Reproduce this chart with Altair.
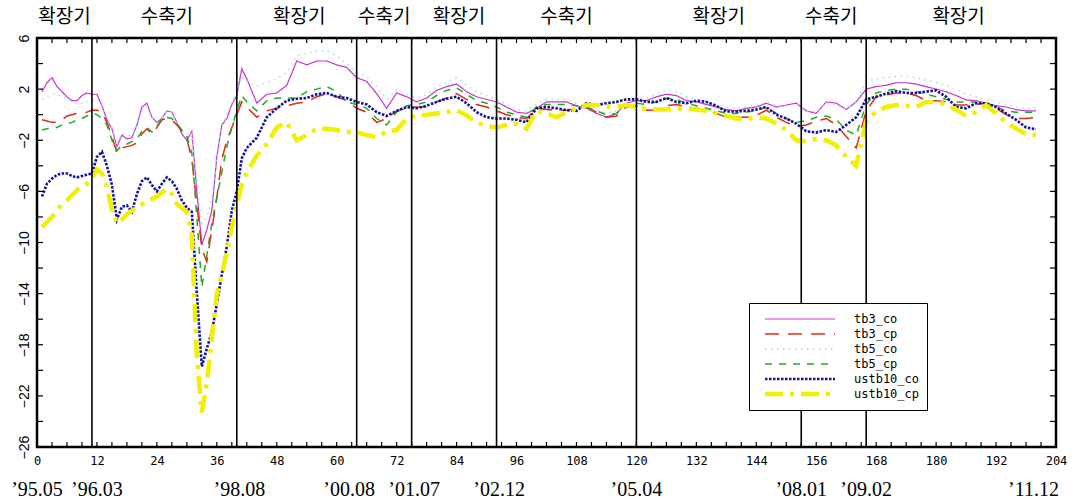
import altair as alt
import pandas as pd

# ---- series -------------------------------------------------------------
series_names = ["tb3_co", "tb3_cp", "tb5_co", "tb5_cp", "ustb10_co", "ustb10_cp"]

# month index: monthly through 41, then every second month
months = list(range(1, 42)) + list(range(42, 201, 2))

tb3_co = [
    1.8, 2.5, 2.9, 2.2, 1.8, 1.4, 1.1, 1.1, 1.5, 1.7,
    1.6, 1.6, 0.7, -0.4, -1.1, -2.5, -1.6, -1.9, -1.8, -0.8,
    0.6, 0.9, -0.2, -0.6, -0.3, 0.3, 0.2, -0.6, -1.5, -2.0,
    -1.3, -6.0, -10.2, -9.0, -7.5, -3.3, -0.8, -0.3, 0.8, 1.5,
    3.6,
    2.8, 0.9, 1.6, 1.7, 2.3, 4.2, 3.9, 4.2, 4.2, 3.9,
    3.7, 2.9, 2.6, 1.65, 0.5, 1.7, 1.4, 1.0, 1.3, 1.9,
    2.2, 2.4, 1.8, 1.4, 1.2, 1.0, 0.6, 0.2, 0.1, 0.5,
    1.0, 1.0, 1.0, 0.7, 0.5, 0.1, -0.2, 0.1, 0.9, 1.1,
    1.1, 1.4, 1.6, 1.5, 1.1, 1.0, 0.8, 0.6, 0.4, 0.3,
    0.5, 0.6, 0.9, 0.6, 0.75, 0.9, 0.3, 0.1, 1.0, 0.9,
    0.4, 1.0, 2.0, 2.2, 2.3, 2.5, 2.5, 2.4, 2.2, 2.0,
    1.8, 1.5, 1.15, 1.1, 0.9, 0.7, 0.6, 0.4, 0.3, 0.3,
]

tb3_cp = [
    -0.4, -0.5, -0.6, -0.6, -0.4, -0.1, 0.0, 0.1, 0.1, 0.2,
    0.35, 0.35, 0.2, -0.6, -1.7, -3.0, -2.6, -2.5, -2.4, -2.2,
    -1.5, -1.1, -1.5, -1.0, -0.4, -0.3, -0.4, -0.8, -1.3, -1.9,
    -3.5, -7.0, -10.5, -11.5, -9.0, -6.5, -3.5, -2.0, -1.0, 0.0,
    1.0,
    0.6, -0.2, 0.3, 0.5, 0.7, 0.9, 1.0, 1.4, 1.65, 1.4,
    1.1, 0.5, 0.2, -0.6, -0.3, 0.3, 0.5, 0.6, 0.6, 1.0,
    1.3, 1.65, 1.2, 0.8, 0.6, 0.3, 0.0, -0.2, -0.3, 0.5,
    0.4, 0.35, 0.35, 0.5, 0.6, 0.2, -0.2, -0.1, 0.6, 0.7,
    0.35, 0.35, 0.7, 0.8, 0.6, 0.5, 0.3, 0.1, -0.2, -0.2,
    -0.2, -0.05, 0.35, -0.2, -0.6, -0.9, -0.8, -0.5, -0.3, -0.8,
    -1.7, -2.6, 0.3, 1.4, 1.55, 1.7, 1.7, 1.5, 1.1, 1.1,
    1.0, 0.75, 0.75, 0.8, 0.9, 0.5, 0.0, -0.3, -0.3, -0.2,
]

tb5_co = [
    1.2, 1.4, 1.6, 1.6, 1.4, 1.2, 1.0, 0.9, 0.9, 1.0,
    1.1, 1.2, 0.6, -0.3, -1.0, -2.3, -1.5, -1.6, -1.6, -0.9,
    0.3, 0.6, -0.2, -0.5, -0.2, 0.3, 0.2, -0.5, -1.3, -1.8,
    -1.5, -5.0, -8.5, -8.0, -6.5, -3.5, -1.0, 0.0, 1.0, 1.8,
    3.0,
    2.6, 2.2, 2.5, 2.8, 3.3, 4.6, 4.8, 5.0, 5.0, 4.6,
    4.0, 3.3, 3.0, 2.2, 1.2, 1.9, 1.6, 1.3, 1.6, 2.2,
    2.5, 2.9, 2.3, 1.8, 1.5, 1.2, 0.8, 0.4, 0.3, 0.8,
    1.2, 1.2, 1.2, 0.9, 0.7, 0.4, 0.1, 0.3, 1.0, 1.3,
    1.3, 1.6, 1.9, 1.8, 1.4, 1.2, 1.0, 0.8, 0.6, 0.5,
    0.6, 0.7, 1.0, 0.7, 0.7, 0.8, 0.3, 0.2, 0.9, 0.8,
    0.4, 1.1, 2.6, 2.8, 2.9, 3.0, 3.0, 2.9, 2.7, 2.5,
    2.3, 2.0, 1.6, 1.4, 1.2, 1.0, 0.8, 0.6, 0.5, 0.5,
]

tb5_cp = [
    -1.2, -1.1, -1.0, -1.0, -0.8, -0.7, -0.6, -0.4, -0.3, -0.1,
    0.1, 0.0, -0.3, -0.8, -2.0, -2.8, -2.4, -2.3, -2.1, -1.9,
    -1.3, -1.0, -1.35, -0.9, -0.3, -0.2, -0.3, -0.7, -1.2, -1.7,
    -3.0, -8.0, -13.5, -11.0, -8.5, -6.5, -4.5, -2.5, -1.0, 0.3,
    1.5,
    1.0, 0.3, 1.1, 1.3, 1.3, 1.3, 1.8, 2.0, 2.2, 1.8,
    1.0, 0.8, 0.5, -0.3, -0.8, 0.2, 0.7, 0.8, 1.0, 1.5,
    1.9, 2.1, 1.6, 1.1, 0.9, 0.6, 0.2, 0.0, -0.2, 0.6,
    0.8, 0.8, 0.8, 0.7, 0.6, 0.3, 0.0, 0.1, 0.7, 0.9,
    0.8, 1.0, 1.3, 1.2, 0.9, 0.7, 0.5, 0.3, 0.1, 0.1,
    0.2, 0.3, 0.6, 0.1, -0.3, -0.6, -0.5, -0.2, -0.1, -0.4,
    -1.2, -1.6, 0.8, 1.7, 1.9, 2.0, 2.0, 1.8, 1.6, 1.4,
    1.2, 1.0, 1.0, 1.0, 0.9, 0.6, 0.3, 0.2, 0.2, 0.2,
]

ustb10_co = [
    -6.4, -5.4, -5.0, -4.7, -4.6, -4.6, -4.8, -4.9, -4.8, -4.7,
    -4.6, -3.3, -2.9, -4.0, -5.5, -8.2, -7.2, -7.1, -7.6, -6.2,
    -5.2, -4.9, -5.5, -6.0, -5.4, -4.9, -5.2, -5.8, -6.7, -7.3,
    -7.6, -14.0, -19.7, -18.3, -17.0, -14.8, -12.5, -10.3, -7.5, -6.0,
    -3.4,
    -2.6, -1.8, -0.2, 0.5, 1.1, 1.25, 1.3, 1.6, 1.7, 1.4,
    1.3, 1.0, 0.8, 0.2, -0.1, 0.3, 0.6, 0.5, 0.7, 1.0,
    1.25, 1.4, 0.9, 0.2, -0.2, -0.3, -0.3, -0.4, -0.6, 0.5,
    0.6, 0.5, 0.35, 0.3, 0.9, 0.75, 0.9, 1.0, 1.2, 1.2,
    1.0, 1.0, 1.3, 1.0, 0.9, 1.1, 1.0, 0.7, 0.25, 0.25,
    0.3, 0.4, 0.6, 0.0, -0.3, -0.7, -1.3, -1.4, -1.2, -1.35,
    -0.8, -0.2, 1.2, 1.4, 1.65, 1.85, 1.7, 1.7, 1.8, 1.9,
    1.4, 0.6, 0.5, 0.9, 0.9, 0.6, 0.1, -0.4, -1.0, -1.15,
]

ustb10_cp = [
    -8.8, -8.4, -8.0, -7.5, -7.0, -6.7, -6.3, -5.9, -5.6, -5.4,
    -5.0, -4.3, -4.6, -5.6, -7.5, -8.5, -8.2, -7.8, -7.5, -7.2,
    -7.0, -6.8, -6.6, -6.4, -6.1, -5.8, -6.2, -7.0, -7.3, -7.6,
    -9.5, -19.0, -23.3, -21.0, -17.5, -14.0, -12.5, -10.8, -8.8, -7.0,
    -5.5,
    -4.5, -3.2, -2.3, -1.0, -0.6, -2.0, -1.6, -1.1, -1.1, -1.2,
    -1.35, -1.35, -1.6, -1.75, -1.3, -1.2, -0.3, -0.05, 0.0, 0.1,
    0.2, 0.35, -0.05, -0.6, -0.9, -1.0, -0.8, -0.7, -1.1, 0.3,
    0.1, -0.2, 0.2, 0.5, 0.75, 0.75, 0.65, 0.6, 0.75, 0.6,
    0.4, 0.4, 0.4, 0.45, 0.5, 0.4, 0.3, 0.1, -0.1, -0.3,
    -0.35, -0.2, -0.3, -0.7, -1.2, -2.0, -2.1, -1.9, -2.0, -2.4,
    -3.3, -4.0, -0.5, 0.25, 0.6, 0.75, 0.7, 0.6, 1.0, 1.0,
    0.8, 0.4, -0.1, 0.2, 0.75, 0.1, -0.6, -1.1, -1.5, -1.6,
]

series_values = [tb3_co, tb3_cp, tb5_co, tb5_cp, ustb10_co, ustb10_cp]

# ---- annotations --------------------------------------------------------
phase_bounds = [11, 40, 64, 75, 92, 120, 153, 166]
phase_names = ["확장기", "수축기", "확장기", "수축기", "확장기",
               "수축기", "확장기", "수축기", "확장기"]
phase_centers = [5.5, 26, 52.5, 69.5, 84.5, 106, 136.5, 159, 184.5]

date_labels = ["’95.05", "’96.03", "’98.08", "’00.08", "’01.07",
               "’02.12", "’05.04", "’08.01", "’09.02", "’11.12"]
date_positions = [0, 12, 40.5, 62.5, 75.5, 92.5, 120, 153, 166, 199.5]

x_label_values = list(range(0, 205, 12))
y_label_values = list(range(-26, 7, 4))
x_tick_values = list(range(0, 205, 3))
y_tick_values = list(range(-26, 7, 2))

# ---- styles -------------------------------------------------------------
line_colors = ["#cc33cc", "#e02a1a", "#a8e6ee", "#1fae1f", "#12129e", "#f0f000"]
line_dashes = [[1, 0], [14, 9], [1.5, 4.5], [7, 7], [2.5, 1.5], [18, 7, 4, 7]]
line_widths = [1.2, 1.5, 1.8, 1.5, 2.6, 4.5]

W, H = 1019, 409
X_DOMAIN = [0, 204]
Y_DOMAIN = [-26, 6]

for vals in series_values:
    assert len(vals) == len(months)

rows = []
for name, vals in zip(series_names, series_values):
    for m, v in zip(months, vals):
        rows.append({"month": m, "value": v, "series": name})
df = pd.DataFrame(rows)


def width_expr(ref):
    """Per-series stroke width as a Vega expression keyed on `ref`."""
    expr = str(line_widths[-1])
    for name, w in reversed(list(zip(series_names[:-1], line_widths[:-1]))):
        expr = f"({ref} === '{name}' ? {w} : {expr})"
    return expr


x_axis = alt.Axis(values=x_label_values, title=None, domain=False, ticks=False,
                  grid=False, labelFont="DejaVu Sans Mono", labelFontSize=12,
                  labelPadding=8, labelColor="black", labelFlush=False)
y_axis = alt.Axis(values=y_label_values, title=None, domain=False, ticks=False,
                  grid=False, labelAngle=270, labelAlign="center",
                  labelBaseline="middle", labelFont="Liberation Sans",
                  labelFontSize=14, labelPadding=13, labelColor="black")


def xq(field):
    return alt.X(f"{field}:Q", scale=alt.Scale(domain=X_DOMAIN, nice=False, zero=False),
                 axis=x_axis)


def yq(field):
    return alt.Y(f"{field}:Q", scale=alt.Scale(domain=Y_DOMAIN, nice=False, zero=False),
                 axis=y_axis)


# legend sample: a long horizontal stroke drawn with a small nominal symbol size,
# so that rows stay compact while the line sample stays long
legend = alt.Legend(title=None, orient="none", legendX=712, legendY=265,
                    fillColor="white", strokeColor="black", padding=7,
                    symbolType="M-5.385,0H5.385", symbolSize=169, symbolOffset=35,
                    symbolFillColor="transparent",
                    symbolStrokeWidth=alt.ExprRef(width_expr("datum.value")),
                    labelOffset=45, labelFont="DejaVu Sans Mono", labelFontSize=12,
                    labelColor="black", rowPadding=0)

lines = alt.Chart(df).mark_line(
    clip=True, strokeWidth=alt.ExprRef(width_expr("datum.series"))
).encode(
    x=xq("month"),
    y=yq("value"),
    color=alt.Color("series:N", scale=alt.Scale(domain=series_names, range=line_colors),
                    legend=legend),
    strokeDash=alt.StrokeDash("series:N",
                              scale=alt.Scale(domain=series_names, range=line_dashes),
                              legend=legend),
)

phase_df = pd.DataFrame({"month": phase_bounds})
phase_rules = alt.Chart(phase_df).mark_rule(color="black", strokeWidth=1.6).encode(
    x=xq("month")
)

yt_df = pd.DataFrame({"v": y_tick_values})
xt_df = pd.DataFrame({"m": x_tick_values})
tick_style = dict(color="black", strokeWidth=1.2)
left_ticks = alt.Chart(yt_df).mark_rule(**tick_style).encode(
    y=yq("v"), x=alt.value(0), x2=alt.value(6))
right_ticks = alt.Chart(yt_df).mark_rule(**tick_style).encode(
    y=yq("v"), x=alt.value(W - 6), x2=alt.value(W))
top_ticks = alt.Chart(xt_df).mark_rule(**tick_style).encode(
    x=xq("m"), y=alt.value(0), y2=alt.value(5))
bottom_ticks = alt.Chart(xt_df).mark_rule(**tick_style).encode(
    x=xq("m"), y=alt.value(H - 5), y2=alt.value(H))

phase_text_df = pd.DataFrame({"pos": phase_centers, "name": phase_names})
phase_text = alt.Chart(phase_text_df).mark_text(
    font="Noto Sans CJK KR", fontSize=19, align="center", baseline="middle",
    color="black"
).encode(x=xq("pos"), y=alt.value(-21), text="name:N")

date_df = pd.DataFrame({"pos": date_positions, "label": date_labels})
date_text = alt.Chart(date_df).mark_text(
    font="Liberation Serif", fontSize=20, align="center", baseline="middle",
    color="black"
).encode(x=xq("pos"), y=alt.value(H + 43), text="label:N")

chart = alt.layer(
    lines, phase_rules, left_ticks, right_ticks, top_ticks, bottom_ticks,
    phase_text, date_text
).properties(
    width=W, height=H,
    autosize=alt.AutoSizeParams(type="none"),
    padding={"left": 37, "top": 38, "right": 29, "bottom": 57},
    background="white",
).configure_view(
    stroke="black", strokeWidth=2.5
)

chart.save("out.html", embed_options={"renderer": "svg", "actions": False})
